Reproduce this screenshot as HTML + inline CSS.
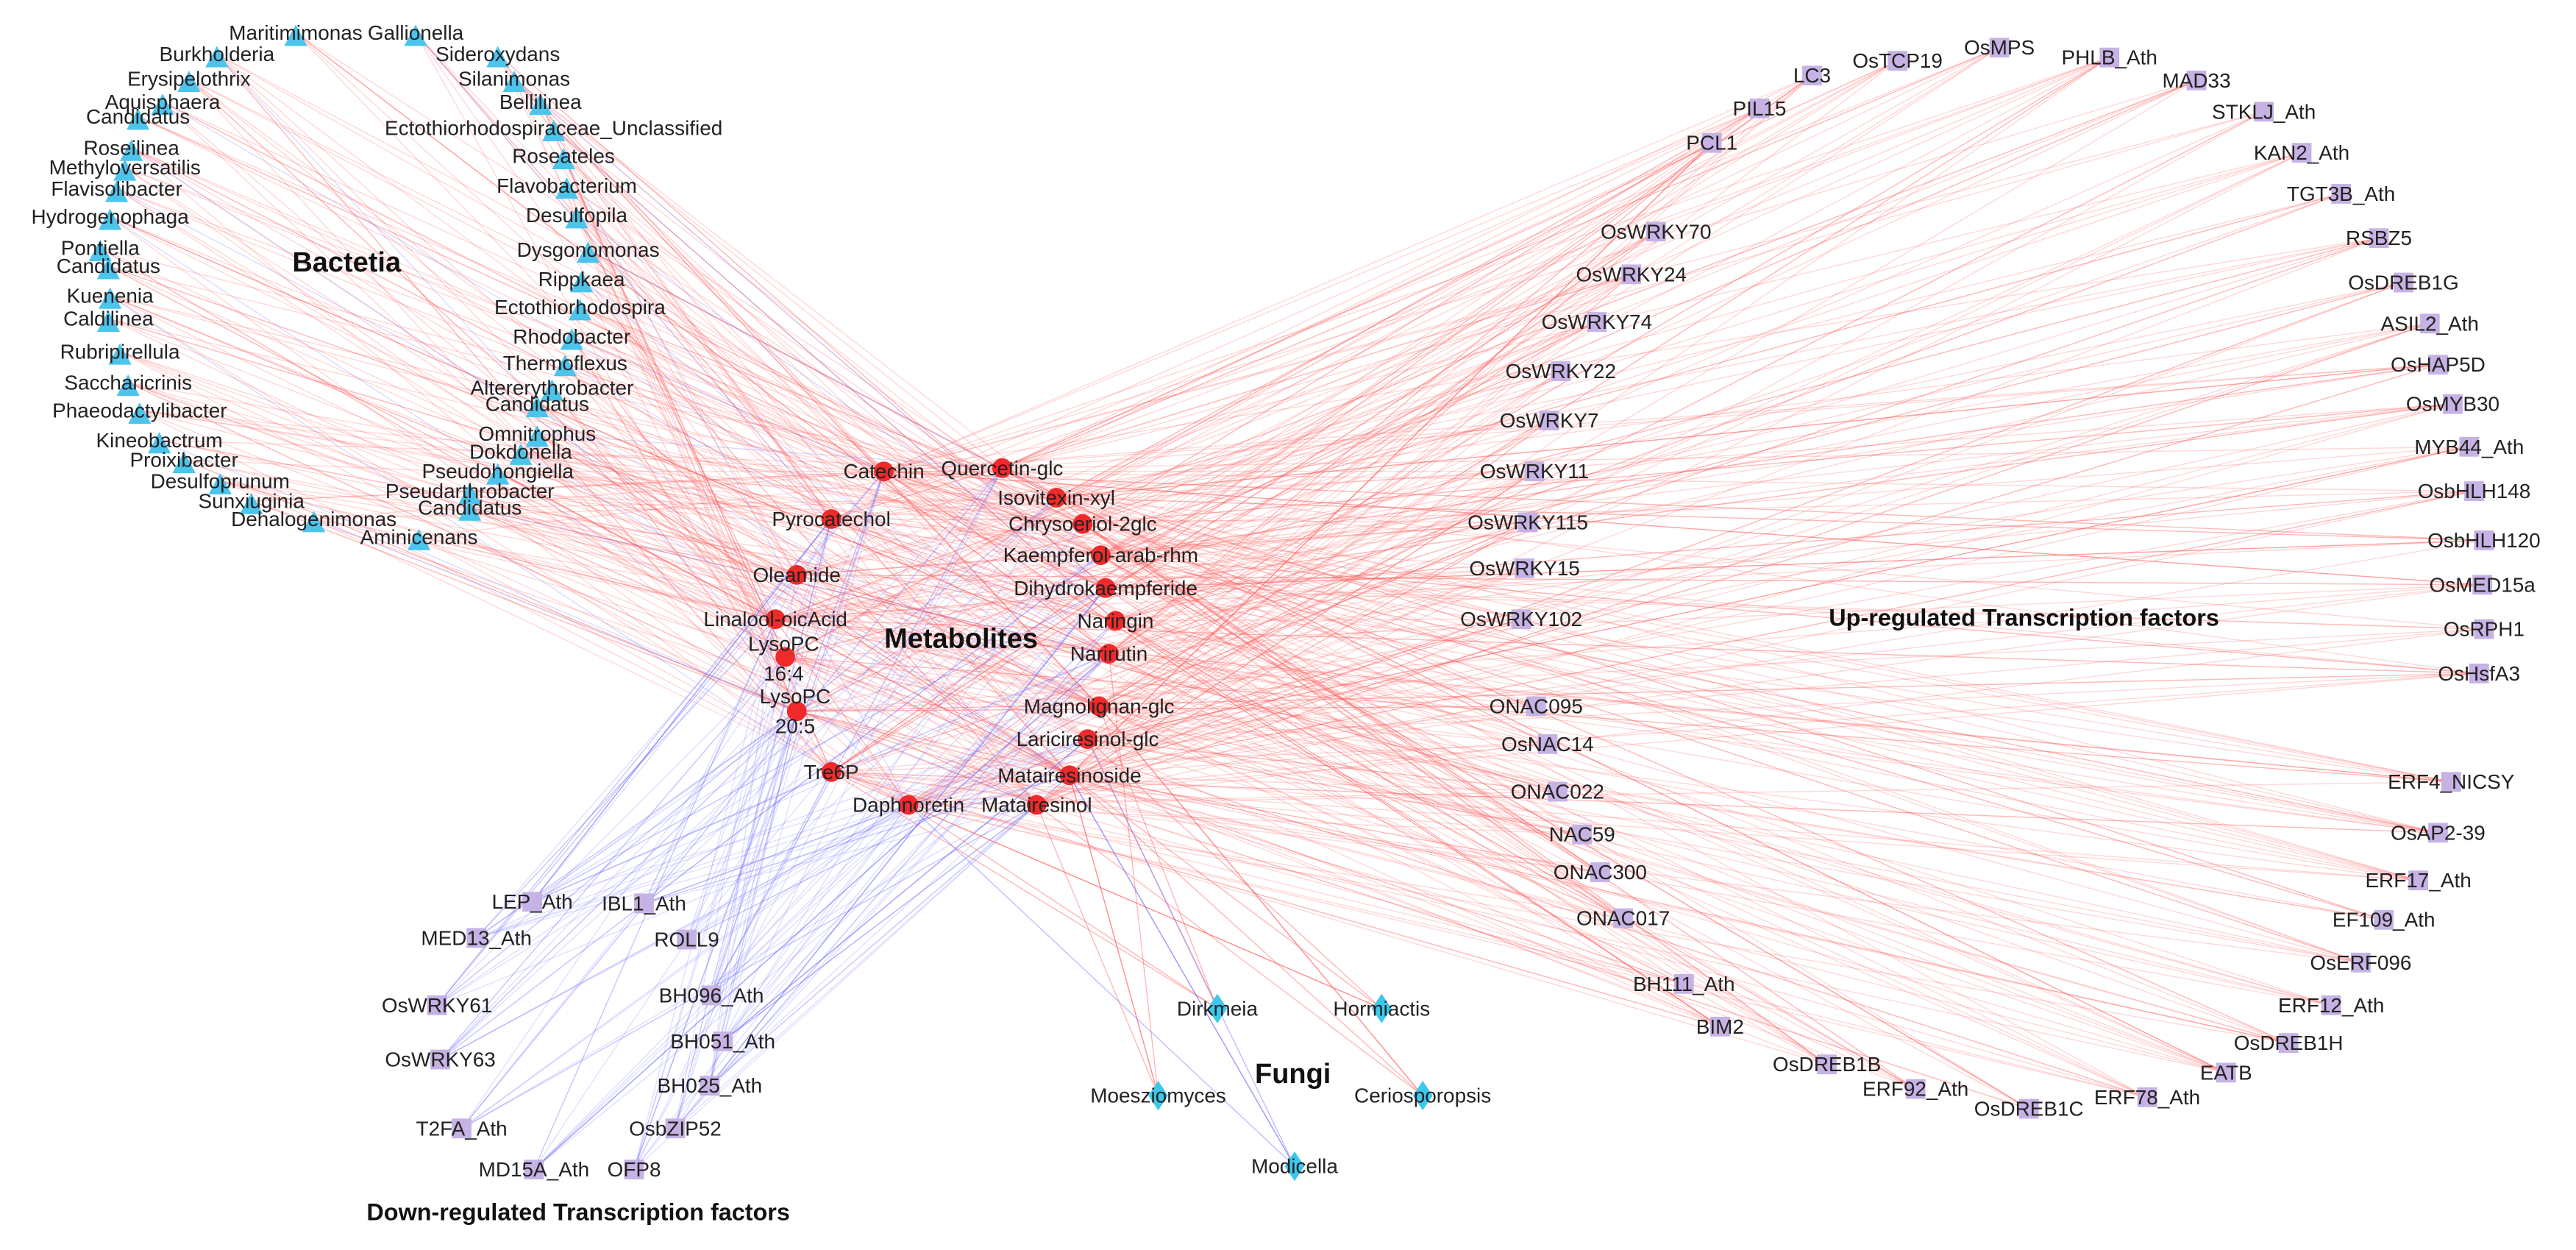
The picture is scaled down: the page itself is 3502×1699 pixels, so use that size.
<!DOCTYPE html>
<html><head><meta charset="utf-8"><style>
html,body{margin:0;padding:0;background:#fff;}
svg{display:block;}
text{font-family:"Liberation Sans",Arial,sans-serif;font-size:12.5px;fill:#222;text-anchor:middle;dominant-baseline:central;}
text.h{font-size:17px;font-weight:bold;fill:#111;}
text.h2{font-size:14.5px;font-weight:bold;fill:#111;}
</style></head><body>
<svg id="s" width="3502" height="1699" viewBox="0 0 1568 761" preserveAspectRatio="none" xmlns="http://www.w3.org/2000/svg">
<g id="edges"></g>
<g id="nodes"></g>
<g id="labels">
<g id="bac">
<text x="180" y="20">Maritimimonas</text><text x="253" y="20">Gallionella</text>
<text x="132" y="33">Burkholderia</text><text x="303" y="33">Sideroxydans</text>
<text x="115" y="48">Erysipelothrix</text><text x="313" y="48">Silanimonas</text>
<text x="99" y="62">Aquisphaera</text><text x="84" y="71">Candidatus</text>
<text x="329" y="62">Bellilinea</text><text x="337" y="78">Ectothiorhodospiraceae_Unclassified</text>
<text x="80" y="90">Roseilinea</text><text x="343" y="95">Roseateles</text>
<text x="76" y="102">Methyloversatilis</text><text x="71" y="115">Flavisolibacter</text>
<text x="345" y="113">Flavobacterium</text><text x="67" y="132">Hydrogenophaga</text>
<text x="351" y="131">Desulfopila</text><text x="61" y="151">Pontiella</text>
<text x="66" y="162">Candidatus</text><text x="358" y="152">Dysgonomonas</text>
<text x="67" y="180">Kuenenia</text><text x="354" y="170">Rippkaea</text>
<text x="66" y="194">Caldilinea</text><text x="353" y="187">Ectothiorhodospira</text>
<text x="73" y="214">Rubripirellula</text><text x="348" y="205">Rhodobacter</text>
<text x="344" y="221">Thermoflexus</text><text x="78" y="233">Saccharicrinis</text>
<text x="336" y="236">Altererythrobacter</text><text x="327" y="246">Candidatus</text>
<text x="85" y="250">Phaeodactylibacter</text><text x="327" y="264">Omnitrophus</text>
<text x="97" y="268">Kineobactrum</text><text x="317" y="275">Dokdonella</text>
<text x="112" y="280">Proixibacter</text><text x="303" y="287">Pseudohongiella</text>
<text x="134" y="293">Desulfoprunum</text><text x="286" y="299">Pseudarthrobacter</text>
<text x="153" y="305">Sunxiuginia</text><text x="286" y="309">Candidatus</text>
<text x="191" y="316">Dehalogenimonas</text><text x="255" y="327">Aminicenans</text>
</g>
<g id="met">
<text x="538" y="287">Catechin</text><text x="610" y="285">Quercetin-glc</text>
<text x="643" y="303">Isovitexin-xyl</text><text x="506" y="316">Pyrocatechol</text>
<text x="659" y="319">Chrysoeriol-2glc</text><text x="670" y="338">Kaempferol-arab-rhm</text>
<text x="485" y="350">Oleamide</text><text x="673" y="358">Dihydrokaempferide</text>
<text x="472" y="377">Linalool-oicAcid</text><text x="679" y="378">Naringin</text>
<text x="477" y="392">LysoPC</text><text x="484" y="424">LysoPC</text>
<text x="675" y="398">Narirutin</text><text x="669" y="430">Magnolignan-glc</text>
<text x="662" y="450">Lariciresinol-glc</text><text x="651" y="472">Matairesinoside</text>
<text x="506" y="470">Tre6P</text><text x="553" y="490">Daphnoretin</text>
<text x="631" y="490">Matairesinol</text>
</g>
<text x="477" y="410">16:4</text><text x="484" y="442">20:5</text>
<g id="up">
<text x="1103" y="46">LC3</text><text x="1155" y="37">OsTCP19</text><text x="1217" y="29">OsMPS</text>
<text x="1284" y="35">PHLB_Ath</text><text x="1337" y="49">MAD33</text><text x="1378" y="68">STKLJ_Ath</text>
<text x="1401" y="93">KAN2_Ath</text><text x="1425" y="118">TGT3B_Ath</text><text x="1448" y="145">RSBZ5</text>
<text x="1463" y="172">OsDREB1G</text><text x="1479" y="197">ASIL2_Ath</text><text x="1484" y="222">OsHAP5D</text>
<text x="1493" y="246">OsMYB30</text><text x="1503" y="272">MYB44_Ath</text><text x="1506" y="299">OsbHLH148</text>
<text x="1512" y="329">OsbHLH120</text><text x="1511" y="356">OsMED15a</text><text x="1512" y="383">OsRPH1</text>
<text x="1509" y="410">OsHsfA3</text><text x="1071" y="66">PIL15</text><text x="1042" y="87">PCL1</text>
<text x="1008" y="141">OsWRKY70</text><text x="993" y="167">OsWRKY24</text><text x="972" y="196">OsWRKY74</text>
<text x="950" y="226">OsWRKY22</text><text x="943" y="256">OsWRKY7</text><text x="934" y="287">OsWRKY11</text>
<text x="930" y="318">OsWRKY115</text><text x="928" y="346">OsWRKY15</text><text x="926" y="377">OsWRKY102</text>
<text x="935" y="430">ONAC095</text><text x="942" y="453">OsNAC14</text><text x="948" y="482">ONAC022</text>
<text x="963" y="508">NAC59</text><text x="974" y="531">ONAC300</text><text x="988" y="559">ONAC017</text>
<text x="1025" y="599">BH111_Ath</text><text x="1047" y="625">BIM2</text><text x="1112" y="648">OsDREB1B</text>
<text x="1166" y="663">ERF92_Ath</text><text x="1235" y="675">OsDREB1C</text><text x="1307" y="668">ERF78_Ath</text>
<text x="1355" y="653">EATB</text><text x="1393" y="635">OsDREB1H</text><text x="1419" y="612">ERF12_Ath</text>
<text x="1437" y="586">OsERF096</text><text x="1451" y="560">EF109_Ath</text><text x="1472" y="536">ERF17_Ath</text>
<text x="1484" y="507">OsAP2-39</text><text x="1492" y="476">ERF4_NICSY</text>
</g>
<g id="down">
<text x="324" y="549">LEP_Ath</text><text x="392" y="550">IBL1_Ath</text><text x="290" y="571">MED13_Ath</text>
<text x="418" y="572">ROLL9</text><text x="266" y="612">OsWRKY61</text><text x="433" y="606">BH096_Ath</text>
<text x="440" y="634">BH051_Ath</text><text x="268" y="645">OsWRKY63</text><text x="432" y="661">BH025_Ath</text>
<text x="281" y="687">T2FA_Ath</text><text x="411" y="687">OsbZIP52</text><text x="325" y="712">MD15A_Ath</text>
<text x="386" y="712">OFP8</text>
</g>
<g id="fun">
<text x="741" y="614">Dirkmeia</text><text x="841" y="614">Hormiactis</text>
<text x="705" y="667">Moesziomyces</text><text x="866" y="667">Ceriosporopsis</text>
<text x="788" y="710">Modicella</text>
</g>
<text class="h" x="211" y="160">Bactetia</text>
<text class="h" x="585" y="389">Metabolites</text>
<text class="h" x="787" y="654">Fungi</text>
<text class="h2" x="1232" y="376">Up-regulated Transcription factors</text>
<text class="h2" x="352" y="738">Down-regulated Transcription factors</text>
</g>
</svg>
<script>
(function(){
var NS="http://www.w3.org/2000/svg";
var seed=12345;function r(){seed=(seed*1103515245+12345)%2147483648;return seed/2147483648;}
function pts(id){return Array.prototype.map.call(document.querySelectorAll('#'+id+' text'),function(t){return [parseFloat(t.getAttribute('x')),parseFloat(t.getAttribute('y'))];});}
var bac=pts('bac'),met=pts('met'),up=pts('up'),dn=pts('down'),fun=pts('fun');
met[10]=[478,400];met[11]=[485,433];
var M=met.length;
function pick(a,b){var i=a+Math.floor(r()*(b-a));if(i>=M)i=M-1;return met[i];}
var E=document.getElementById('edges'),N=document.getElementById('nodes');
function line(a,b,c,o){if(!a||!b)return;var l=document.createElementNS(NS,'line');l.setAttribute('x1',a[0]);l.setAttribute('y1',a[1]);l.setAttribute('x2',b[0]);l.setAttribute('y2',b[1]);l.setAttribute('stroke',c);l.setAttribute('stroke-opacity',o);l.setAttribute('stroke-width','0.6');E.appendChild(l);}
var RED='#ff5a5a',BLUE='#6b6bff';
bac.forEach(function(b){var n=4+Math.floor(r()*4);for(var i=0;i<n;i++)line(b,pick(0,M),RED,0.25);if(r()<0.4)line(b,pick(0,M),BLUE,0.25);});
up.forEach(function(u){var n=6+Math.floor(r()*6);for(var i=0;i<n;i++)line(u,pick(0,M),RED,0.25);});
dn.forEach(function(d){var n=8+Math.floor(r()*6);for(var i=0;i<n;i++)line(d,pick(0,M),BLUE,0.22);});
fun.forEach(function(f,k){var n=3+Math.floor(r()*3);for(var i=0;i<n;i++)line(f,pick(12,M),k==4?BLUE:RED,0.45);});
function el(t,a){var e=document.createElementNS(NS,t);for(var k in a)e.setAttribute(k,a[k]);N.appendChild(e);}
bac.forEach(function(p){var x=p[0],y=p[1]+2;el('polygon',{points:(x-7)+','+(y+6)+' '+(x+7)+','+(y+6)+' '+x+','+(y-7),fill:'#4cc4ec'});});
met.forEach(function(p){el('circle',{cx:p[0],cy:p[1],r:6,fill:'#f02a2a'});});
up.concat(dn).forEach(function(p){el('rect',{x:p[0]-6,y:p[1]-6,width:12,height:12,fill:'#c6b2e4'});});
fun.forEach(function(p){var x=p[0],y=p[1];el('polygon',{points:x+','+(y-9)+' '+(x+6)+','+y+' '+x+','+(y+9)+' '+(x-6)+','+y,fill:'#3cc8ec'});});
})();
</script>
</body></html>
